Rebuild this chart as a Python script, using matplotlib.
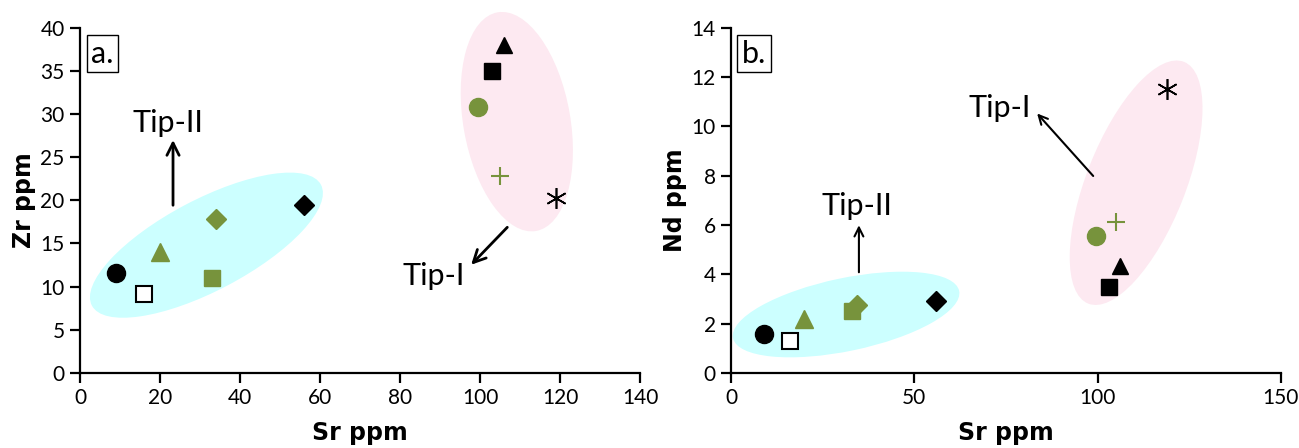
import matplotlib.pyplot as plt
from matplotlib.patches import Ellipse
from matplotlib.transforms import ScaledTranslation

plt.rcParams['font.family'] = ['Lato', 'DejaVu Sans']

green = '#77933C'

# sample order: black circle, open square, green triangle, green square,
# green diamond, black diamond, green circle, black square, black triangle,
# green plus, black asterisk
sr = [9, 16, 20, 33, 34, 56, 99.5, 103, 106, 105, 119]
sr_b = [9, 16, 20, 33, 34.5, 56, 99.5, 103, 106, 105, 119]
zr = [11.6, 9.1, 14.0, 11.0, 17.8, 19.4, 30.8, 35.0, 38.0, 22.8, 20.3]
nd = [1.6, 1.3, 2.2, 2.5, 2.75, 2.9, 5.55, 3.5, 4.35, 6.1, 11.5]

styles = [
    dict(marker='o', color='black', ms=13),
    dict(marker='s', mfc='white', mec='black', ms=11, mew=1.5),
    dict(marker='^', color=green, ms=13),
    dict(marker='s', color=green, ms=12),
    dict(marker='D', color=green, ms=10),
    dict(marker='D', color='black', ms=10),
    dict(marker='o', color=green, ms=13),
    dict(marker='s', color='black', ms=12),
    dict(marker='^', color='black', ms=12),
    dict(marker='+', color=green, ms=13, mew=1.5),
    dict(marker=(6, 2, 0), color='black', ms=15, mew=1.2),
]


def ellipse(ax, fig, cx, cy, w, h, ang, fc):
    tr = fig.dpi_scale_trans + ScaledTranslation(cx, cy, ax.transData)
    e = Ellipse((0, 0), w, h, angle=ang, transform=tr, facecolor=fc,
                edgecolor='none', clip_on=False, zorder=0)
    ax.add_patch(e)


def style_axes(ax, xt, yt, ylabel, tag):
    ax.spines['top'].set_visible(False)
    ax.spines['right'].set_visible(False)
    ax.spines['left'].set_linewidth(1.6)
    ax.spines['bottom'].set_linewidth(1.6)
    ax.set_xticks(xt)
    ax.set_yticks(yt)
    ax.set_xlim(xt[0], xt[-1])
    ax.set_ylim(yt[0], yt[-1])
    ax.tick_params(direction='out', length=7, width=1.6, labelsize=15,
                   colors='black', pad=4)
    lab = dict(fontsize=17, fontweight='bold', family='DejaVu Sans')
    ax.set_xlabel('Sr ppm', labelpad=9, **lab)
    ax.set_ylabel(ylabel, labelpad=3, **lab)
    ax.text(0.02, 0.965, tag, transform=ax.transAxes, fontsize=22,
            va='top', ha='left',
            bbox=dict(boxstyle='square,pad=0.15', fc='white', ec='black', lw=1))


fig = plt.figure(figsize=(12.99, 4.48), dpi=100)
ax1 = fig.add_axes([0.0616, 0.1674, 0.4311, 0.7712])
ax2 = fig.add_axes([0.5627, 0.1674, 0.4234, 0.7712])

style_axes(ax1, list(range(0, 141, 20)), list(range(0, 41, 5)), 'Zr ppm', 'a.')
style_axes(ax2, [0, 50, 100, 150], list(range(0, 15, 2)), 'Nd ppm', 'b.')

ellipse(ax1, fig, 31.6, 14.8, 2.59, 0.91, 27.8, '#CCFFFF')
ellipse(ax1, fig, 109.2, 29.1, 1.07, 2.22, 10, '#FDE9F1')
ellipse(ax2, fig, 31.4, 2.37, 2.31, 0.73, 11.8, '#CCFFFF')
ellipse(ax2, fig, 110.5, 7.71, 0.99, 2.60, -21.6, '#FDE9F1')

for i, st in enumerate(styles):
    ax1.plot(sr[i], zr[i], linestyle='none', zorder=3, clip_on=False, **st)
    ax2.plot(sr_b[i], nd[i], linestyle='none', zorder=3, clip_on=False, **st)

arr = dict(arrowstyle='->', color='black', lw=2, mutation_scale=22)
ax1.annotate('', xy=(23.25, 27.3), xytext=(23.25, 19.1), arrowprops=arr)
ax1.text(22.0, 29.0, 'Tip-II', fontsize=22, ha='center', va='center')
ax1.annotate('', xy=(97.3, 12.3), xytext=(107.3, 17.1), arrowprops=arr)
ax1.text(88.5, 11.2, 'Tip-I', fontsize=22, ha='center', va='center')

arr2 = dict(arrowstyle='->', color='black', lw=1.5, mutation_scale=16)
ax2.annotate('', xy=(34.9, 6.1), xytext=(34.9, 3.97), arrowprops=arr2)
ax2.text(34.4, 6.75, 'Tip-II', fontsize=22, ha='center', va='center')
ax2.annotate('', xy=(83.0, 10.6), xytext=(99.3, 7.9), arrowprops=arr2)
ax2.text(73.4, 10.75, 'Tip-I', fontsize=22, ha='center', va='center')

fig.savefig('out.png', dpi=100)
